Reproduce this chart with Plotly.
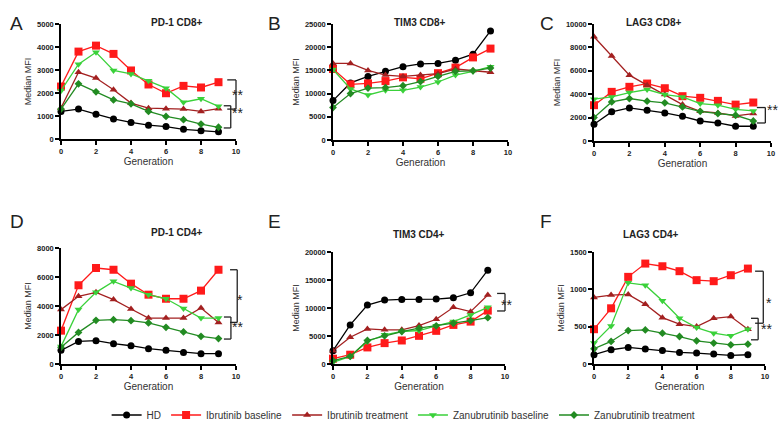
import plotly.graph_objects as go

generations = list(range(10))
series_names = ["HD", "Ibrutinib baseline", "Ibrutinib treatment", "Zanubrutinib baseline", "Zanubrutinib treatment"]
panel_titles = ["PD-1 CD8+", "TIM3 CD8+", "LAG3 CD8+", "PD-1 CD4+", "TIM3 CD4+", "LAG3 CD4+"]
panel_letters = ["A", "B", "C", "D", "E", "F"]
y_max = [5000, 25000, 10000, 8000, 20000, 1500]
y_ticks = [
    [0, 1000, 2000, 3000, 4000, 5000],
    [0, 5000, 10000, 15000, 20000, 25000],
    [0, 2000, 4000, 6000, 8000, 10000],
    [0, 2000, 4000, 6000, 8000],
    [0, 5000, 10000, 15000, 20000],
    [0, 500, 1000, 1500],
]

A_HD = [1200, 1300, 1080, 870, 720, 600, 540, 420, 360, 310]
A_IB = [2280, 3800, 4060, 3700, 2980, 2370, 1990, 2310, 2240, 2470]
A_IT = [1350, 2900, 2650, 2140, 1560, 1340, 1320, 1300, 1200, 1320]
A_ZB = [2100, 3250, 3770, 2980, 2830, 2530, 2210, 1600, 1750, 1420]
A_ZT = [1300, 2400, 2050, 1700, 1530, 1200, 980, 840, 650, 510]

B_HD = [8500, 12300, 13700, 14800, 15800, 16400, 16500, 17200, 18500, 23500]
B_IB = [15300, 12000, 12200, 12700, 13500, 13200, 14400, 15600, 17800, 19700]
B_IT = [16500, 16500, 15000, 14000, 13700, 14000, 14300, 15300, 15000, 14600]
B_ZB = [15200, 11000, 9700, 10700, 10700, 11400, 12500, 14000, 14800, 15800]
B_ZT = [7000, 10000, 11200, 11300, 11700, 12600, 13700, 14800, 14900, 15500]

C_HD = [1430, 2490, 2830, 2630, 2400, 2110, 1710, 1540, 1260, 1260]
C_IB = [3060, 4200, 4630, 4910, 4510, 3830, 3690, 3430, 3110, 3290]
C_IT = [8910, 7260, 5630, 4770, 3970, 3110, 2540, 2400, 2140, 2340]
C_ZB = [3570, 3770, 4140, 4400, 3970, 3770, 3200, 3060, 2710, 2570]
C_ZT = [2000, 3340, 3630, 3400, 3260, 2910, 2540, 2340, 2200, 1710]

D_HD = [940, 1560, 1610, 1400, 1260, 1060, 940, 800, 710, 710]
D_IB = [2300, 5430, 6620, 6500, 5540, 4780, 4500, 4500, 5060, 6500]
D_IT = [3750, 4670, 4940, 4440, 3790, 3170, 3170, 3170, 3860, 2870]
D_ZB = [1200, 3750, 4940, 5700, 5240, 4780, 4500, 3820, 3170, 3170]
D_ZT = [1150, 2180, 3010, 3060, 2990, 2830, 2530, 2210, 1910, 1750]

E_HD = [2370, 6980, 10530, 11420, 11540, 11540, 11600, 11830, 12720, 16750]
E_IB = [950, 1660, 2960, 3730, 4200, 5030, 5920, 6980, 7570, 9530]
E_IT = [2370, 4790, 6270, 6100, 6100, 6860, 7990, 10120, 9350, 12310]
E_ZB = [300, 1360, 4020, 5210, 5800, 5980, 6810, 7570, 8760, 10120]
E_ZT = [590, 1360, 4200, 5030, 5800, 6390, 6810, 7280, 7750, 8280]

F_HD = [124, 191, 222, 200, 182, 155, 146, 133, 115, 124]
F_IB = [466, 746, 1167, 1345, 1309, 1243, 1123, 1109, 1189, 1278]
F_IT = [892, 923, 932, 799, 621, 533, 501, 612, 635, 466]
F_ZB = [280, 510, 1087, 1056, 848, 612, 488, 413, 377, 466]
F_ZT = [204, 302, 448, 457, 413, 368, 311, 280, 257, 266]

panels = [
    [A_HD, A_IB, A_IT, A_ZB, A_ZT],
    [B_HD, B_IB, B_IT, B_ZB, B_ZT],
    [C_HD, C_IB, C_IT, C_ZB, C_ZT],
    [D_HD, D_IB, D_IT, D_ZB, D_ZT],
    [E_HD, E_IB, E_IT, E_ZB, E_ZT],
    [F_HD, F_IB, F_IT, F_ZB, F_ZT],
]

# significance brackets: (x_start, x_vertical, y_top, y_bottom, label, label_y)
brackets = [
    [(9.5, 10.0, 2570, 1300, "**", 2140), (9.3, 9.7, 1445, 480, "**", 910)],
    [],
    [(9.2, 9.68, 2860, 1540, "**", 2200)],
    [(9.66, 10.07, 6500, 2870, "*", 4780), (9.31, 9.71, 3240, 1720, "**", 2180)],
    [(9.54, 10.0, 12600, 9470, "**", 11400)],
    [(9.42, 9.9, 1243, 546, "*", 888), (9.18, 9.6, 612, 324, "**", 400)],
]

# ---- styling ----
W, H = 784, 427
colors = ["#000000", "#ff1a1a", "#a32020", "#3ad13a", "#228b22"]
symbols = ["circle", "square", "triangle-up", "triangle-down", "diamond"]
sizes = [7, 8, 7, 7, 6]

# panel plot areas in pixels: (x0, x1, y_top, y_bottom)
boxes = [
    (61, 236, 24, 139),
    (333, 508, 24, 140),
    (594, 771, 24, 141),
    (61, 236, 248, 364),
    (333, 505, 252, 364),
    (594, 765, 252, 364),
]
letter_pos = [(8, 11), (274, 11), (556, 11), (8, 221), (274, 221), (554, 221)]
title_y = [15, 15, 15, 232, 235, 235]

FONT = "Liberation Sans, Arial, sans-serif"

fig = go.Figure()
layout = dict(
    width=W, height=H,
    margin=dict(l=0, r=0, t=0, b=0, autoexpand=False),
    paper_bgcolor="white", plot_bgcolor="white",
    font=dict(family=FONT, color="#222222"),
    showlegend=True,
    legend=dict(orientation="h", x=0.136, xanchor="left", y=1 - 415 / H, yanchor="middle",
                font=dict(size=10, family=FONT, color="#333333"), itemwidth=30,
                bgcolor="rgba(0,0,0,0)", tracegroupgap=0),
)
annotations = []
shapes = []

for p in range(6):
    idx = "" if p == 0 else str(p + 1)
    xa, ya = "x" + idx, "y" + idx
    x0, x1, yt, yb = boxes[p]
    layout["xaxis" + idx] = dict(
        domain=[x0 / W, x1 / W], anchor=ya, range=[0, 10], tickvals=[0, 2, 4, 6, 8, 10],
        automargin=False,
        showline=True, linecolor="black", linewidth=1.5, ticks="outside", ticklen=4, tickwidth=1.5,
        tickcolor="black", showgrid=False, zeroline=False,
        tickfont=dict(size=7.5, family=FONT, color="#222222", weight="bold"),
        title=dict(text="Generation", font=dict(size=10, family=FONT, color="#333333"), standoff=2),
    )
    layout["yaxis" + idx] = dict(
        domain=[1 - yb / H, 1 - yt / H], anchor=xa, range=[0, y_max[p]], tickvals=y_ticks[p],
        automargin=False,
        tickformat="d", showline=True, linecolor="black", linewidth=1.5, ticks="outside", ticklen=4,
        tickwidth=1.5, tickcolor="black", showgrid=False, zeroline=False,
        tickfont=dict(size=7.5, family=FONT, color="#222222", weight="bold"),
        title=dict(text="Median MFI", font=dict(size=9, family=FONT, color="#333333"), standoff=4),
    )
    for s in range(5):
        fig.add_trace(go.Scatter(
            x=generations, y=panels[p][s], name=series_names[s], mode="lines+markers",
            line=dict(color=colors[s], width=1.3),
            marker=dict(symbol=symbols[s], size=sizes[s], color=colors[s]),
            xaxis=xa, yaxis=ya, cliponaxis=False, legendgroup=series_names[s],
            showlegend=(p == 0),
        ))
    # title and letter
    annotations.append(dict(text="<b>" + panel_titles[p] + "</b>", x=(x0 + x1) / 2 / W, y=1 - title_y[p] / H,
                            xref="paper", yref="paper", showarrow=False,
                            font=dict(size=10, family=FONT, color="#222222")))
    lx, ly = letter_pos[p]
    annotations.append(dict(text=panel_letters[p], x=lx / W, y=1 - ly / H, xref="paper", yref="paper",
                            showarrow=False, font=dict(size=19, family=FONT, color="#222222")))
    # brackets
    for (xs, xv, ytop, ybot, lab, laby) in brackets[p]:
        xr, yr = xa + " domain", ya + " domain"
        ln = dict(color="#222222", width=1.3)
        shapes.append(dict(type="line", xref=xr, yref=yr, x0=xs / 10, x1=xv / 10,
                           y0=ytop / y_max[p], y1=ytop / y_max[p], line=ln))
        shapes.append(dict(type="line", xref=xr, yref=yr, x0=xv / 10, x1=xv / 10,
                           y0=ytop / y_max[p], y1=ybot / y_max[p], line=ln))
        shapes.append(dict(type="line", xref=xr, yref=yr, x0=xs / 10, x1=xv / 10,
                           y0=ybot / y_max[p], y1=ybot / y_max[p], line=ln))
        annotations.append(dict(text=lab, xref=xr, yref=yr, x=10.5 / 10, y=laby / y_max[p],
                                showarrow=False, yshift=-5,
                                font=dict(size=14, family=FONT, color="#222222")))

layout["annotations"] = annotations
layout["shapes"] = shapes
fig.update_layout(**layout)
fig.write_html("out.html", config={"displayModeBar": False},
               post_script="document.body.style.margin='0px';document.body.style.overflow='hidden';")
